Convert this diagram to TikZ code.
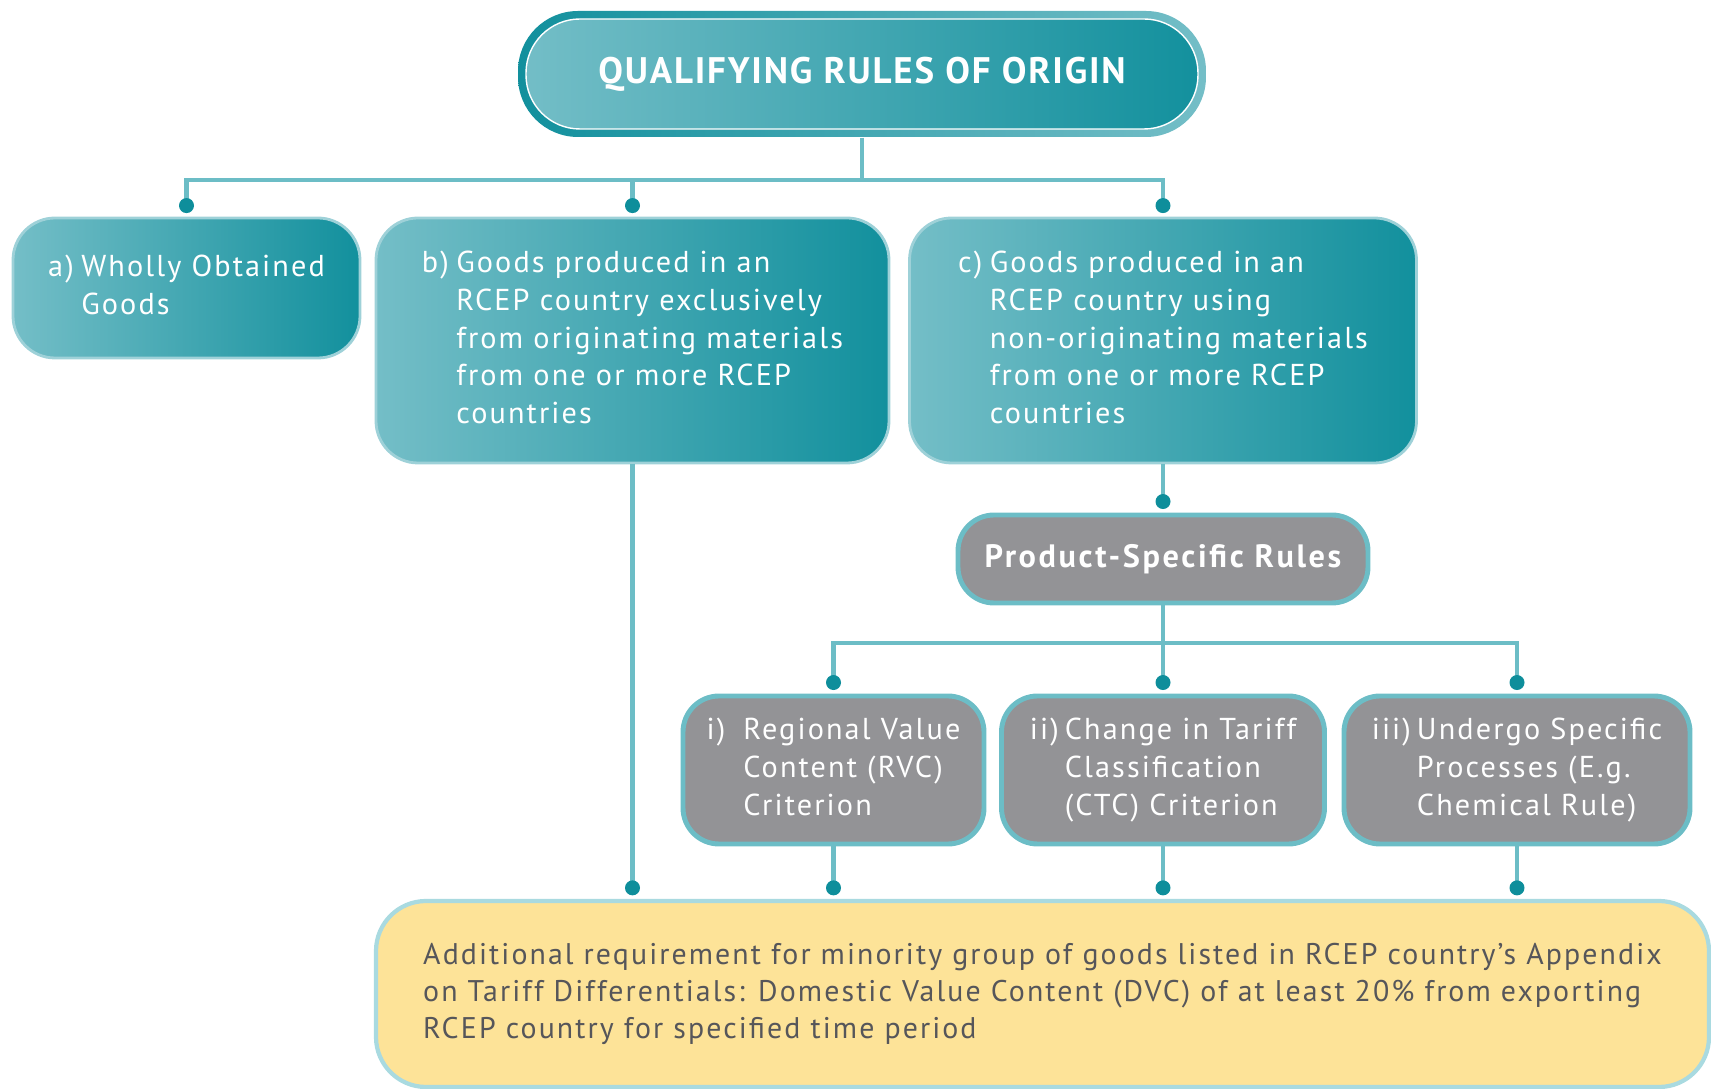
\documentclass[tikz,border=0pt]{standalone}
\usepackage{fontspec}
\setmainfont{PT Sans}
\usetikzlibrary{calc}

\definecolor{tealdark}{HTML}{12909D}
\definecolor{teallight}{HTML}{74BEC7}
\definecolor{linkclr}{HTML}{6CBDC6}
\definecolor{dotclr}{HTML}{0E8E9B}
\definecolor{greyfill}{HTML}{939396}
\definecolor{notefill}{HTML}{FDE398}
\definecolor{noteline}{HTML}{A9DAE0}
\definecolor{notetext}{HTML}{56565A}

\newcommand{\boxfont}{\fontsize{8.6}{10.7}\selectfont\addfontfeatures{LetterSpace=7}}

\tikzset{
    link/.style={draw=linkclr, line width=1.2pt},
    titlebox/.style={rounded corners=0.6cm, left color=tealdark, right color=teallight,
        minimum width=6.88cm, minimum height=1.26cm, text=white,
        font=\fontsize{10.5}{12}\selectfont\bfseries\addfontfeatures{LetterSpace=5},
        path picture={
            \draw[white, line width=0.4pt, left color=teallight, right color=tealdark, rounded corners=0.54cm]
                ([shift={(0.08,-0.08)}]path picture bounding box.north west) rectangle
                ([shift={(-0.08,0.08)}]path picture bounding box.south east);
        }},
    tealbox/.style={rounded corners=0.42cm, left color=teallight, right color=tealdark,
        draw=teallight!70!white, line width=0.8pt, text=white, font=\boxfont, inner sep=0pt},
    rulebox/.style={rounded corners=0.36cm, fill=greyfill, draw=linkclr, line width=1.4pt,
        text=white, font=\boxfont, inner sep=0pt},
    notebox/.style={rounded corners=0.5cm, fill=notefill, draw=noteline, line width=1.2pt,
        text=notetext, font=\fontsize{8.5}{10.6}\selectfont\addfontfeatures{LetterSpace=7},
        align=left, inner sep=0pt}
}

\begin{document}
\begin{tikzpicture}
    \useasboundingbox (0,0) rectangle (17.11,-10.89);

    \node (title) [titlebox] at (8.62,-0.74) {QUALIFYING RULES OF ORIGIN};

    \begin{scope}[every node/.style={tealbox}]
        \node (a) [minimum width=3.47cm, minimum height=1.40cm] at (1.865,-2.88)
            {\begin{tabular}{@{}l@{\hspace{0.25em}}l@{}}
                a) & Wholly Obtained\\
                   & Goods
            \end{tabular}};
        \node (b) [minimum width=5.13cm, minimum height=2.45cm] at (6.325,-3.405)
            {\begin{tabular}{@{}l@{\hspace{0.25em}}l@{}}
                b) & Goods produced in an\\
                   & RCEP country exclusively\\
                   & from originating materials\\
                   & from one or more RCEP\\
                   & countries
            \end{tabular}};
        \node (c) [minimum width=5.07cm, minimum height=2.45cm] at (11.63,-3.405)
            {\begin{tabular}{@{}l@{\hspace{0.25em}}l@{}}
                c) & Goods produced in an\\
                   & RCEP country using\\
                   & non-originating materials\\
                   & from one or more RCEP\\
                   & countries
            \end{tabular}};
    \end{scope}

    \begin{scope}[every node/.style={rulebox}]
        \node (psr) [minimum width=4.10cm, minimum height=0.88cm,
            font=\fontsize{9.2}{11}\selectfont\bfseries\addfontfeatures{LetterSpace=8}] at (11.63,-5.59) {Product-Specific Rules};
        \node (r1) [minimum width=3.01cm, minimum height=1.48cm] at (8.335,-7.70)
            {\begin{tabular}{@{}l@{\hspace{0.6em}}l@{}}
                i) & Regional Value\\
                   & Content (RVC)\\
                   & Criterion
            \end{tabular}};
        \node (r2) [minimum width=3.23cm, minimum height=1.48cm] at (11.63,-7.70)
            {\begin{tabular}{@{}l@{\hspace{0.2em}}l@{}}
                ii) & Change in Tariff\\
                    & Classification\\
                    & (CTC) Criterion
            \end{tabular}};
        \node (r3) [minimum width=3.46cm, minimum height=1.48cm] at (15.17,-7.70)
            {\begin{tabular}{@{}l@{\hspace{0.2em}}l@{}}
                iii) & Undergo Specific\\
                     & Processes (E.g.\\
                     & Chemical Rule)
            \end{tabular}};
    \end{scope}

    \node (note) [notebox, minimum width=13.33cm, minimum height=1.86cm] at (10.425,-9.94)
        {Additional requirement for minority group of goods listed in RCEP country’s Appendix\\
         on Tariff Differentials: Domestic Value Content (DVC) of at least 20\% from exporting\\
         RCEP country for specified time period};

    % connectors
    \coordinate (bar1) at (0,-1.80);
    \coordinate (bar2) at (0,-6.43);
    \draw[link] (title.south) -- (title.south |- bar1);
    \draw[link] ([yshift=.11cm]a.north) -- (a.north |- bar1) -- (c.north |- bar1) -- ([yshift=.11cm]c.north);
    \draw[link] (b.north |- bar1) -- ([yshift=.11cm]b.north);
    \draw[link] (c.south) -- ([yshift=.11cm]psr.north);
    \draw[link] (psr.south) -- (psr.south |- bar2);
    \draw[link] ([yshift=.11cm]r1.north) -- (r1.north |- bar2) -- (r3.north |- bar2) -- ([yshift=.11cm]r3.north);
    \draw[link] (r2.north |- bar2) -- ([yshift=.11cm]r2.north);
    \foreach \n in {b,r1,r2,r3}
        \draw[link] (\n.south) -- ($(\n.south |- note.north)+(0,.11)$);

    % dots
    \foreach \n in {a,b,c,psr,r1,r2,r3}
        \fill[dotclr] ([yshift=.11cm]\n.north) circle (0.075);
    \foreach \n in {b,r1,r2,r3}
        \fill[dotclr] ($(\n.south |- note.north)+(0,.11)$) circle (0.075);
\end{tikzpicture}
\end{document}
